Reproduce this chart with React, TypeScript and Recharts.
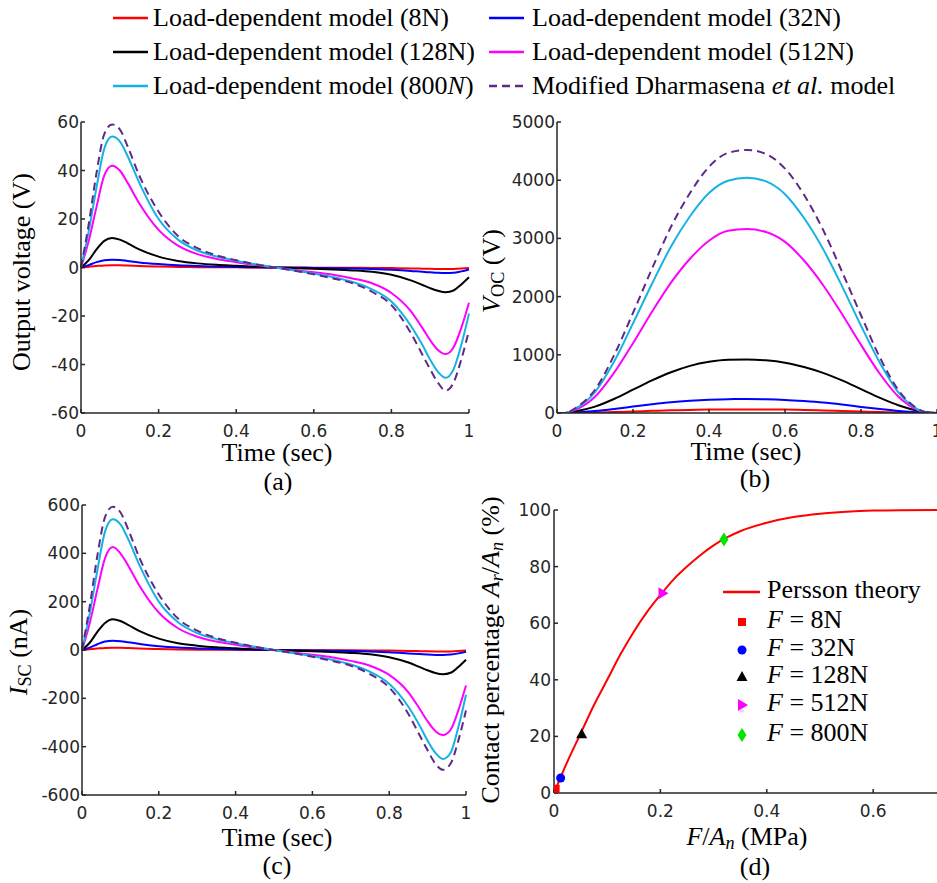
import React from 'react';
import { LineChart, Line, XAxis, YAxis, ComposedChart, Scatter } from 'recharts';

// time samples for panels (a) and (c)
const TIME_AC = [0, 0.02, 0.04, 0.06, 0.08, 0.1, 0.12, 0.15, 0.2, 0.25, 0.3, 0.35, 0.4, 0.45, 0.5, 0.55, 0.6, 0.65, 0.7, 0.75, 0.8, 0.85, 0.88, 0.9, 0.92, 0.94, 0.96, 0.98, 1];

// (a) output voltage, V
const VOUT_8N = [0, 0.3, 0.6, 0.85, 0.9, 0.9, 0.8, 0.6, 0.4, 0.25, 0.15, 0.1, 0.06, 0.03, 0, -0.03, -0.06, -0.09, -0.12, -0.17, -0.25, -0.38, -0.48, -0.55, -0.6, -0.62, -0.58, -0.45, -0.25];
const VOUT_32N = [0, 1, 2.2, 3, 3.2, 3.1, 2.7, 2.1, 1.4, 0.9, 0.6, 0.4, 0.25, 0.1, 0, -0.1, -0.2, -0.3, -0.4, -0.6, -0.9, -1.4, -1.8, -2, -2.2, -2.3, -2.2, -1.6, -0.8];
const VOUT_128N = [0, 3, 7.5, 11, 12.2, 11.5, 10, 7.5, 4.5, 2.7, 1.7, 1.1, 0.7, 0.3, 0, -0.3, -0.5, -0.8, -1.2, -1.8, -3, -5.3, -7.2, -8.5, -9.6, -10.2, -9.5, -7, -4];
const VOUT_512N = [0, 11, 25, 38, 42, 40, 35, 26.5, 15.5, 9, 5.5, 3.5, 2.2, 1, 0, -1, -2, -3, -4.5, -6.5, -10.5, -18, -25, -30, -34, -35.7, -33, -25, -14.5];
const VOUT_800N = [0, 15, 33, 49, 54, 52, 46, 35, 20, 11.5, 7, 4.5, 2.8, 1.3, 0, -1.2, -2.5, -4, -6, -9, -14, -24, -32, -38, -43, -45.5, -42, -32, -19];
const VOUT_DHARMA = [0, 18, 39, 55, 59, 57, 50, 38, 23, 13, 8, 5, 3, 1.3, 0, -1.3, -2.8, -4.5, -6.5, -10, -15.5, -27, -36, -42, -47.5, -50.8, -47.5, -38, -26];

// (c) short-circuit current, nA
const ISC_8N = [0, 3, 6, 8.5, 9, 9, 8, 6, 4, 2.5, 1.5, 1, 0.6, 0.3, 0, -0.3, -0.6, -0.9, -1.2, -1.7, -2.5, -3.8, -4.8, -5.5, -6, -6.2, -5.8, -4.5, -2.5];
const ISC_32N = [0, 10, 24, 35, 38, 36, 32, 25, 16, 10, 6.5, 4, 2.5, 1, 0, -1, -2, -3, -4, -6, -9, -14, -17, -19, -20.5, -21, -19, -14, -7];
const ISC_128N = [0, 30, 75, 112, 127, 120, 104, 78, 47, 28, 18, 11, 7, 3, 0, -3, -5, -8, -12, -18, -30, -52, -71, -84, -95, -100, -94, -70, -40];
const ISC_512N = [0, 110, 250, 380, 426, 400, 350, 265, 155, 90, 55, 35, 22, 10, 0, -10, -20, -30, -45, -65, -103, -175, -245, -295, -335, -352, -330, -250, -147];
const ISC_800N = [0, 150, 330, 490, 541, 520, 460, 350, 200, 115, 70, 45, 28, 13, 0, -12, -25, -40, -60, -90, -140, -235, -315, -375, -425, -451, -425, -320, -185];
const ISC_DHARMA = [0, 180, 390, 550, 593, 570, 500, 380, 230, 130, 80, 50, 30, 13, 0, -13, -28, -45, -65, -100, -155, -265, -355, -415, -470, -496, -470, -375, -250];

// (b) open-circuit voltage, V
const TIME_B = [0, 0.02, 0.05, 0.1, 0.15, 0.2, 0.25, 0.3, 0.35, 0.4, 0.45, 0.5, 0.55, 0.6, 0.65, 0.7, 0.75, 0.8, 0.85, 0.9, 0.95, 0.98, 1];
const VOC_8N = [0, 0, 3, 10, 18, 27, 37, 46, 53, 58, 61, 62, 61, 58, 52, 45, 36, 26, 17, 9, 3, 1, 0];
const VOC_32N = [0, 0, 10, 35, 70, 110, 150, 185, 210, 228, 238, 240, 236, 225, 205, 180, 145, 105, 68, 35, 12, 3, 0];
const VOC_128N = [0, 0, 30, 110, 240, 400, 560, 700, 810, 880, 915, 920, 905, 865, 790, 690, 560, 410, 260, 130, 40, 10, 0];
const VOC_512N = [0, 0, 60, 280, 690, 1200, 1740, 2240, 2650, 2960, 3130, 3160, 3110, 2940, 2620, 2200, 1700, 1170, 670, 270, 50, 0, 0];
const VOC_800N = [0, 0, 80, 360, 880, 1540, 2220, 2860, 3380, 3780, 3990, 4040, 3980, 3760, 3350, 2820, 2180, 1500, 860, 340, 60, 0, 0];
const VOC_DHARMA = [0, 0, 90, 400, 990, 1720, 2480, 3200, 3780, 4230, 4470, 4520, 4450, 4200, 3750, 3150, 2430, 1680, 950, 380, 70, 0, 0];

// (d) Persson theory
const PRESSURE = [0, 0.01, 0.025, 0.05, 0.075, 0.1, 0.125, 0.15, 0.175, 0.2, 0.225, 0.25, 0.275, 0.3, 0.325, 0.35, 0.4, 0.45, 0.5, 0.55, 0.6, 0.65, 0.72];
const CONTACT = [0, 4.5, 11, 21, 31, 40, 49, 57, 64, 70, 75.5, 80, 84, 87.5, 90.3, 92.5, 95.5, 97.5, 98.7, 99.4, 99.8, 99.95, 100];
const LOAD_LABELS = ['8N', '32N', '128N', '512N', '800N'];
const LOAD_PRESSURE = [0.003, 0.0125, 0.052, 0.204, 0.3195];
const LOAD_CONTACT = [1.5, 5.3, 20.8, 70.6, 89.6];

const TIME_TICKS = [0, 0.2, 0.4, 0.6, 0.8, 1];

const SERIES = [
  { key: 's8', color: '#ff0000', label: 'Load-dependent model (8N)' },
  { key: 's32', color: '#0000ff', label: 'Load-dependent model (32N)' },
  { key: 's128', color: '#000000', label: 'Load-dependent model (128N)' },
  { key: 's512', color: '#ff00ff', label: 'Load-dependent model (512N)' },
  { key: 's800', color: '#16b2e4', label: 'Load-dependent model (800N)' },
  { key: 'dh', color: '#5d2a87', label: 'Modified Dharmasena et al. model', dashed: true },
];

const MARKER_COLORS = ['#ff0000', '#0000ff', '#000000', '#ff00ff', '#00e600'];

const rows = (t: number[], cols: number[][]) =>
  t.map((x, i) => {
    const r: any = { t: x };
    SERIES.forEach((s, j) => (r[s.key] = cols[j][i]));
    return r;
  });

const voutData = rows(TIME_AC, [VOUT_8N, VOUT_32N, VOUT_128N, VOUT_512N, VOUT_800N, VOUT_DHARMA]);
const iscData = rows(TIME_AC, [ISC_8N, ISC_32N, ISC_128N, ISC_512N, ISC_800N, ISC_DHARMA]);
const vocData = rows(TIME_B, [VOC_8N, VOC_32N, VOC_128N, VOC_512N, VOC_800N, VOC_DHARMA]);
const perssonData = PRESSURE.map((x, i) => ({ x, y: CONTACT[i] }));

const INK = '#262626';
const SERIF = "'Liberation Serif', 'DejaVu Serif', serif";
const tick = { fontSize: 17, fill: INK, fontFamily: "'DejaVu Sans', sans-serif" };
const axisLine = { stroke: INK, strokeWidth: 1.5 };

const Txt = ({ x, y, rot, children }: any) => (
  <div
    style={{
      position: 'absolute', left: x, top: y, whiteSpace: 'nowrap',
      transform: `translate(-50%, -50%)${rot ? ' rotate(-90deg)' : ''}`,
      fontFamily: SERIF, fontSize: 26, lineHeight: '26px', color: '#000',
    }}
  >
    {children}
  </div>
);

const Sub = ({ children, italic }: any) => (
  <span style={{ fontSize: '0.7em', verticalAlign: '-0.25em', fontStyle: italic ? 'italic' : 'normal' }}>{children}</span>
);

const seriesLines = () =>
  SERIES.map((s) => (
    <Line
      key={s.key}
      dataKey={s.key}
      type="monotone"
      stroke={s.color}
      strokeWidth={2}
      strokeDasharray={s.dashed ? '8 5' : undefined}
      dot={false}
      isAnimationActive={false}
    />
  ));

const TimeChart = ({ data, w, h, margin, yWidth, xHeight, yDomain, yTicks }: any) => (
  <LineChart width={w} height={h} data={data} margin={margin}>
    <XAxis
      dataKey="t" type="number" domain={[0, 1]} ticks={TIME_TICKS} interval={0}
      height={xHeight} tickSize={-4} tickMargin={16} tick={tick}
      axisLine={axisLine} tickLine={axisLine}
    />
    <YAxis
      type="number" domain={yDomain} ticks={yTicks} interval={0}
      width={yWidth} tickSize={-4} tickMargin={6} tick={tick}
      axisLine={axisLine} tickLine={axisLine} allowDataOverflow
    />
    {seriesLines()}
  </LineChart>
);

const markerShape = (i: number) => (p: any) => {
  const { cx, cy } = p;
  const c = MARKER_COLORS[i];
  if (i === 0) return <rect x={cx - 4} y={cy - 4} width={8} height={8} fill={c} />;
  if (i === 1) return <circle cx={cx} cy={cy} r={4.5} fill={c} />;
  if (i === 2) return <polygon points={`${cx},${cy - 6} ${cx + 5.5},${cy + 4} ${cx - 5.5},${cy + 4}`} fill={c} />;
  if (i === 3) return <polygon points={`${cx - 4},${cy - 6} ${cx + 6},${cy} ${cx - 4},${cy + 6}`} fill={c} />;
  return <polygon points={`${cx},${cy - 7} ${cx + 4.5},${cy} ${cx},${cy + 7} ${cx - 4.5},${cy}`} fill={c} />;
};

const LegendMark = ({ i }: { i: number }) => {
  const shape = markerShape(i);
  return (
    <svg width={20} height={24} style={{ position: 'absolute', left: -10, top: -12 }}>
      {shape({ cx: 10, cy: 12 })}
      {i === 3 && <text x={10} y={23} fontSize={10} fill="#ffaaff" textAnchor="middle">*</text>}
    </svg>
  );
};

export default function App() {
  const legendRows = [[0, 1], [2, 3], [4, 5]];
  const rowY = [18, 52, 86];
  const colLine = [113, 489];
  const colText = [153, 532];

  return (
    <div style={{ position: 'absolute', left: 0, top: 0, width: 937, height: 883, background: '#fff', overflow: 'hidden' }}>
      {/* top legend */}
      {legendRows.map((r, ri) =>
        r.map((si, ci) => {
          const s = SERIES[si];
          return (
            <React.Fragment key={s.key}>
              <svg width={36} height={6} style={{ position: 'absolute', left: colLine[ci], top: rowY[ri] - 3 }}>
                <line x1={0} y1={3} x2={35} y2={3} stroke={s.color} strokeWidth={2.5} strokeDasharray={s.dashed ? '8 5' : undefined} />
              </svg>
              <div style={{ position: 'absolute', left: colText[ci], top: rowY[ri] - 13, fontFamily: SERIF, fontSize: 26, lineHeight: '26px', whiteSpace: 'nowrap' }}>
                {si === 4 ? (
                  <>Load-dependent model (800<i>N</i>)</>
                ) : s.dashed ? (
                  <>Modified Dharmasena <i>et al.</i> model</>
                ) : (
                  s.label
                )}
              </div>
            </React.Fragment>
          );
        })
      )}

      {/* (a) */}
      <div style={{ position: 'absolute', left: 0, top: 100 }}>
        <TimeChart
          data={voutData} w={480} h={400}
          margin={{ top: 22, right: 11, bottom: 0, left: 0 }}
          yWidth={81} xHeight={87}
          yDomain={[-60, 60]} yTicks={[-60, -40, -20, 0, 20, 40, 60]}
        />
      </div>
      <Txt x={22} y={272} rot>Output voltage (V)</Txt>
      <Txt x={277} y={453}>Time (sec)</Txt>
      <Txt x={278} y={482}>(a)</Txt>

      {/* (b) */}
      <div style={{ position: 'absolute', left: 470, top: 100 }}>
        <TimeChart
          data={vocData} w={467} h={390}
          margin={{ top: 22, right: 0, bottom: 0, left: 0 }}
          yWidth={87} xHeight={77}
          yDomain={[0, 5000]} yTicks={[0, 1000, 2000, 3000, 4000, 5000]}
        />
      </div>
      <Txt x={495} y={271} rot><i>V</i><Sub>OC</Sub> (V)</Txt>
      <Txt x={746} y={452}>Time (sec)</Txt>
      <Txt x={755} y={479}>(b)</Txt>

      {/* (c) */}
      <div style={{ position: 'absolute', left: 0, top: 490 }}>
        <TimeChart
          data={iscData} w={480} h={393}
          margin={{ top: 15, right: 14, bottom: 0, left: 0 }}
          yWidth={82} xHeight={88}
          yDomain={[-600, 600]} yTicks={[-600, -400, -200, 0, 200, 400, 600]}
        />
      </div>
      <Txt x={22} y={652} rot><i>I</i><Sub>SC</Sub> (nA)</Txt>
      <Txt x={277} y={838}>Time (sec)</Txt>
      <Txt x={277} y={866}>(c)</Txt>

      {/* (d) */}
      <div style={{ position: 'absolute', left: 470, top: 490 }}>
        <ComposedChart width={467} height={393} data={perssonData} margin={{ top: 20, right: 0, bottom: 0, left: 0 }}>
          <XAxis
            dataKey="x" type="number" domain={[0, 0.72]} ticks={[0, 0.2, 0.4, 0.6]} interval={0}
            height={90} tickSize={-4} tickMargin={16} tick={tick}
            axisLine={axisLine} tickLine={axisLine} allowDataOverflow
          />
          <YAxis
            type="number" domain={[0, 100]} ticks={[0, 20, 40, 60, 80, 100]} interval={0}
            width={84} tickSize={-4} tickMargin={7} tick={tick}
            axisLine={axisLine} tickLine={axisLine}
          />
          <Line dataKey="y" type="monotone" stroke="#ff0000" strokeWidth={2} dot={false} isAnimationActive={false} />
          {LOAD_LABELS.map((l, i) => (
            <Scatter
              key={l}
              data={[{ x: LOAD_PRESSURE[i], y: LOAD_CONTACT[i] }]}
              dataKey="y"
              shape={markerShape(i)}
              isAnimationActive={false}
            />
          ))}
        </ComposedChart>
      </div>
      <Txt x={494} y={650} rot>
        Contact percentage <i>A</i><Sub italic>r</Sub>/<i>A</i><Sub italic>n</Sub> (%)
      </Txt>
      <Txt x={747} y={840}><i>F</i>/<i>A</i><Sub italic>n</Sub> (MPa)</Txt>
      <Txt x={755} y={867}>(d)</Txt>

      {/* (d) legend */}
      <svg width={38} height={6} style={{ position: 'absolute', left: 723, top: 589 }}>
        <line x1={0} y1={3} x2={37} y2={3} stroke="#ff0000" strokeWidth={2.5} />
      </svg>
      <div style={{ position: 'absolute', left: 767, top: 577, fontFamily: SERIF, fontSize: 26, lineHeight: '26px', whiteSpace: 'nowrap' }}>
        Persson theory
      </div>
      {LOAD_LABELS.map((l, i) => {
        const y = [622, 650, 677, 705, 735][i];
        return (
          <React.Fragment key={l}>
            <div style={{ position: 'absolute', left: 742, top: y }}>
              <LegendMark i={i} />
            </div>
            <div style={{ position: 'absolute', left: 767, top: y - 15, fontFamily: SERIF, fontSize: 26, lineHeight: '26px', whiteSpace: 'nowrap' }}>
              <i>F</i> = {l}
            </div>
          </React.Fragment>
        );
      })}
    </div>
  );
}
